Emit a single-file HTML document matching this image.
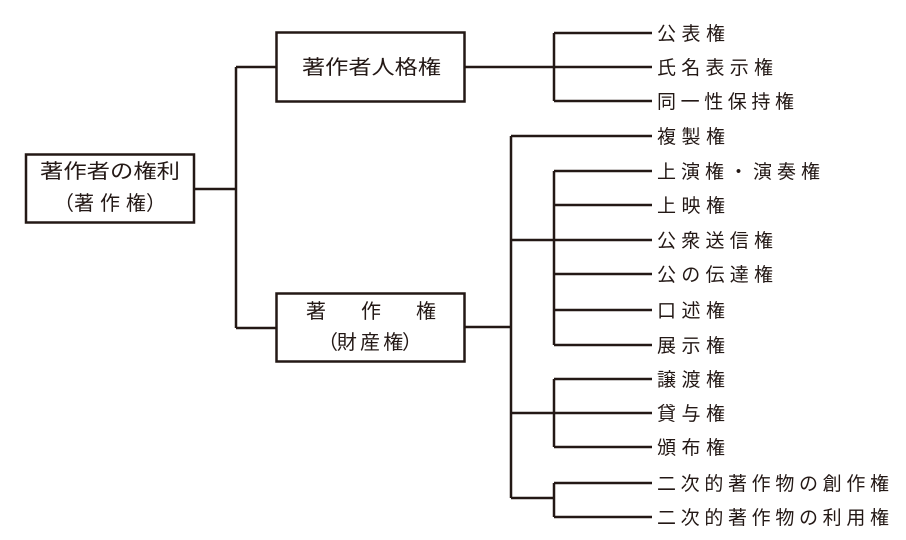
<!DOCTYPE html>
<html><head><meta charset="utf-8"><style>
html,body{margin:0;padding:0;background:#fff;}
svg{display:block;}
text{font-family:"Liberation Sans","Noto Sans CJK JP",sans-serif;fill:#231815;}
</style></head><body>
<svg width="906" height="540" viewBox="0 0 906 540" xmlns="http://www.w3.org/2000/svg">
<g fill="none" stroke="#231815" stroke-width="2.5">
<rect x="26" y="154.5" width="168" height="68"/>
<rect x="276.5" y="32.5" width="188" height="69"/>
<rect x="276.5" y="293.5" width="188" height="68"/>
<path d="M194 189H236M236 67V328M236 67H276M236 328H276"/>
<path d="M465 67H554M554 33V101M554 33H652M554 67H652M554 101H652"/>
<path d="M465 327H511M511 136V498M511 136H652M511 240H554M554 171V345M554 171H652M554 205H652M554 240H652M554 274H652M554 310H652M554 345H652"/>
<path d="M511 413H554M554 379V447M554 379H652M554 413H652M554 447H652"/>
<path d="M511 498H554M554 483V517M554 483H652M554 517H652"/>
</g>
<g font-size="20">
<text x="40" y="178" textLength="140" lengthAdjust="spacingAndGlyphs">著作者の権利</text>
<text x="54" y="210" textLength="112" lengthAdjust="spacing">（著 作 権）</text>
<text x="302" y="74" textLength="139" lengthAdjust="spacingAndGlyphs">著作者人格権</text>
<text x="306" y="318" textLength="130" lengthAdjust="spacing">著　作　権</text>
<text x="318" y="349" textLength="104" lengthAdjust="spacing">（財 産 権）</text>
</g>
<g font-size="19">
<text x="657" y="40" textLength="68">公表権</text>
<text x="657" y="74" textLength="116">氏名表示権</text>
<text x="657" y="108" textLength="137">同一性保持権</text>
<text x="657" y="143" textLength="68">複製権</text>
<text x="657" y="178" textLength="163">上演権・演奏権</text>
<text x="657" y="212" textLength="68">上映権</text>
<text x="657" y="247" textLength="116">公衆送信権</text>
<text x="657" y="281" textLength="116">公の伝達権</text>
<text x="657" y="317" textLength="68">口述権</text>
<text x="657" y="352" textLength="68">展示権</text>
<text x="657" y="386" textLength="68">譲渡権</text>
<text x="657" y="420" textLength="68">貸与権</text>
<text x="657" y="454" textLength="68">頒布権</text>
<text x="657" y="490" textLength="232">二次的著作物の創作権</text>
<text x="657" y="524" textLength="232">二次的著作物の利用権</text>
</g>
</svg>
</body></html>
